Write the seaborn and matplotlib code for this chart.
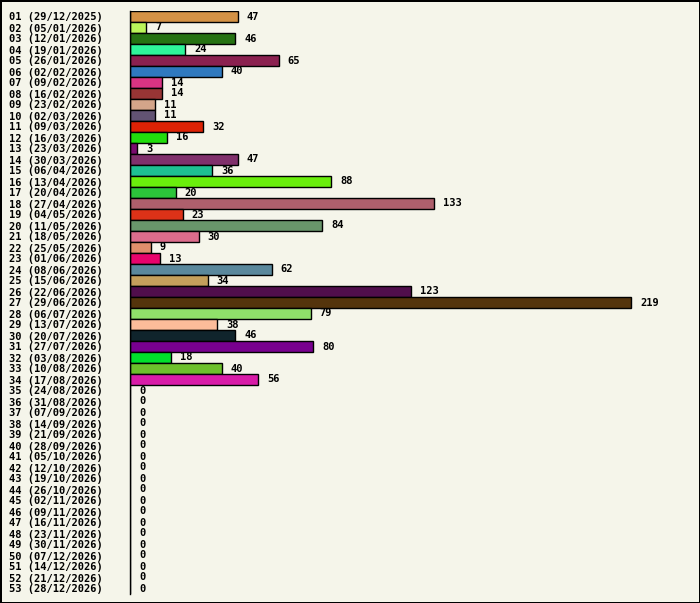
import matplotlib
matplotlib.use("Agg")
import matplotlib.pyplot as plt
import seaborn as sns
import pandas as pd

weeks = ["01 (29/12/2025)", "02 (05/01/2026)", "03 (12/01/2026)", "04 (19/01/2026)",
         "05 (26/01/2026)", "06 (02/02/2026)", "07 (09/02/2026)", "08 (16/02/2026)",
         "09 (23/02/2026)", "10 (02/03/2026)", "11 (09/03/2026)", "12 (16/03/2026)",
         "13 (23/03/2026)", "14 (30/03/2026)", "15 (06/04/2026)", "16 (13/04/2026)",
         "17 (20/04/2026)", "18 (27/04/2026)", "19 (04/05/2026)", "20 (11/05/2026)",
         "21 (18/05/2026)", "22 (25/05/2026)", "23 (01/06/2026)", "24 (08/06/2026)",
         "25 (15/06/2026)", "26 (22/06/2026)", "27 (29/06/2026)", "28 (06/07/2026)",
         "29 (13/07/2026)", "30 (20/07/2026)", "31 (27/07/2026)", "32 (03/08/2026)",
         "33 (10/08/2026)", "34 (17/08/2026)", "35 (24/08/2026)", "36 (31/08/2026)",
         "37 (07/09/2026)", "38 (14/09/2026)", "39 (21/09/2026)", "40 (28/09/2026)",
         "41 (05/10/2026)", "42 (12/10/2026)", "43 (19/10/2026)", "44 (26/10/2026)",
         "45 (02/11/2026)", "46 (09/11/2026)", "47 (16/11/2026)", "48 (23/11/2026)",
         "49 (30/11/2026)", "50 (07/12/2026)", "51 (14/12/2026)", "52 (21/12/2026)",
         "53 (28/12/2026)"]

counts = [47, 7, 46, 24, 65, 40, 14, 14, 11, 11, 32, 16, 3, 47, 36, 88, 20, 133, 23, 84,
          30, 9, 13, 62, 34, 123, 219, 79, 38, 46, 80, 18, 40, 56] + [0] * 19

colors = ["#d49245", "#bbf55a", "#267212", "#2ef59a", "#8b2150", "#2f79bf", "#d83483",
          "#983535", "#d4a58a", "#625373", "#dd2205", "#22dd0d", "#7a0c6e", "#80306c",
          "#1ec092", "#6aee0c", "#2cc43a", "#ae5f6c", "#dc3218", "#69956b", "#dc6c8c",
          "#e08f6c", "#e8046c", "#5a889c", "#c4a05c", "#500e4c", "#54340c", "#90e06a",
          "#fcbc9a", "#10242c", "#78008f", "#00e02c", "#6cc02c", "#d81ca8"] + ["#888888"] * 19

bg = "#f5f5ea"
df = pd.DataFrame({"week": weeks, "count": counts})

fig = plt.figure(figsize=(7.0, 6.03), dpi=100, facecolor=bg)
fig.patch.set_edgecolor("black")
fig.patch.set_linewidth(2)
W, H = 700, 603
ax = fig.add_axes([130 / W, 1 - 594 / H, 560 / W, 583 / H])
ax.set_facecolor(bg)

sns.barplot(data=df, x="count", y="week", hue="week", palette=colors, legend=False,
            orient="h", width=1.0, edgecolor="black", linewidth=1, saturation=1, ax=ax)

ax.set_xlim(0, 560 / (501 / 219))
ax.set_ylim(len(weeks) - 0.5, -0.5)

fs = 7.5
font = dict(family="DejaVu Sans Mono", weight="bold", size=fs)
for cont in ax.containers:
    ax.bar_label(cont, padding=6.5, **font)

ax.set_xlabel("")
ax.set_ylabel("")
ax.set_xticks([])
ax.tick_params(axis="y", length=0, pad=87)
for lbl in ax.get_yticklabels():
    lbl.set_horizontalalignment("left")
    lbl.set_fontfamily("DejaVu Sans Mono")
    lbl.set_fontweight("bold")
    lbl.set_fontsize(fs)

for s in ["top", "right", "bottom"]:
    ax.spines[s].set_visible(False)
ax.spines["left"].set_color("black")
ax.spines["left"].set_linewidth(1)

fig.savefig("out.png", dpi=100, facecolor=bg, edgecolor="black")
